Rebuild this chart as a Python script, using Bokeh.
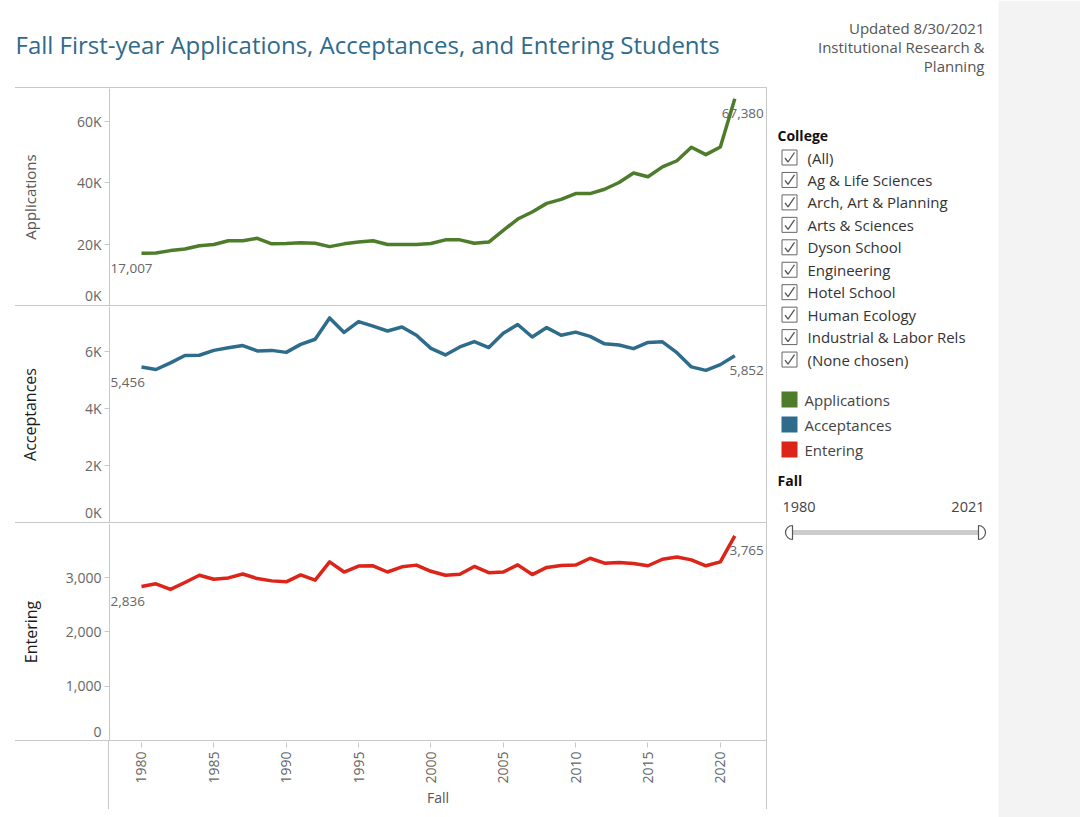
import math
from bokeh.plotting import figure
from bokeh.layouts import row, column
from bokeh.models import (Range1d, FixedTicker, CustomJSTickFormatter, Spacer, LinearAxis)
from bokeh.core.properties import value
from bokeh.embed import file_html
from bokeh.resources import INLINE

# ---------------- data ----------------
years = list(range(1980, 2022))
applications = [17007, 17100, 17900, 18400, 19500, 19900, 21100, 21100, 21900, 20100,
                20200, 20500, 20300, 19200, 20100, 20700, 21100, 19900, 19900, 19900,
                20200, 21400, 21400, 20300, 20700, 24500, 28200, 30500, 33300, 34600,
                36500, 36500, 37900, 40100, 43200, 42000, 45200, 47200, 51600, 49200,
                51700, 67380]
acceptances = [5456, 5370, 5600, 5860, 5870, 6040, 6130, 6210, 6020, 6040,
               5970, 6250, 6430, 7180, 6670, 7050, 6890, 6720, 6860, 6570,
               6110, 5880, 6160, 6350, 6140, 6640, 6950, 6510, 6840, 6570,
               6680, 6530, 6270, 6230, 6100, 6320, 6340, 5960, 5460, 5340,
               5540, 5852]
entering = [2836, 2884, 2781, 2908, 3042, 2969, 2993, 3065, 2980, 2938,
            2920, 3047, 2951, 3288, 3101, 3210, 3216, 3101, 3197, 3228,
            3114, 3042, 3060, 3204, 3089, 3101, 3233, 3054, 3186, 3222,
            3228, 3354, 3264, 3276, 3258, 3216, 3336, 3378, 3324, 3216,
            3288, 3765]
series_names = ["Applications", "Acceptances", "Entering"]
series_colors = ["#4d7c2b", "#2e6c8c", "#dc2418"]
colleges = ["(All)", "Ag & Life Sciences", "Arch, Art & Planning", "Arts & Sciences",
            "Dyson School", "Engineering", "Hotel School", "Human Ecology",
            "Industrial & Labor Rels", "(None chosen)"]
x_ticks = [1980, 1985, 1990, 1995, 2000, 2005, 2010, 2015, 2020]
app_ticks = [0, 20000, 40000, 60000]
acc_ticks = [0, 2000, 4000, 6000]
ent_ticks = [0, 1000, 2000, 3000]
fall_range = [1980, 2021]
title_text = "Fall First-year Applications, Acceptances, and Entering Students"
note_lines = ["Updated 8/30/2021", "Institutional Research &", "Planning"]

# ---------------- style ----------------
FONT = "Open Sans"
GRID = "#c8c8c8"
TICK_COLOR = "#666666"
LEFT = 109
FRAME_W = 657
TICK_FS = "14px"
X0, X1 = 1977.79, 2023.19
x_range_frame = Range1d(X0, X1)
x_range_full = Range1d(X0 - LEFT * (X1 - X0) / FRAME_W, X1)


def hline(width):
    return Spacer(width=width, height=1, margin=0, styles={"background-color": GRID})


def vline(height):
    return Spacer(width=1, height=height, margin=0, styles={"background-color": GRID})


def make_axis(ticks, fmt_code, **kw):
    ax = LinearAxis(ticker=FixedTicker(ticks=ticks), fixed_location=X0,
                    formatter=CustomJSTickFormatter(code=fmt_code), **kw)
    ax.major_tick_in = 0
    ax.major_tick_out = 5
    ax.minor_tick_line_color = None
    ax.major_label_standoff = 3
    ax.major_label_text_font = FONT
    ax.major_label_text_font_size = TICK_FS
    ax.major_label_text_color = TICK_COLOR
    return ax


def panel(vals, name, color, y_end, ticks, fmt_code, frame_h,
          lab_color, lab_size, lab_standoff):
    p = figure(width=LEFT + FRAME_W, height=frame_h, x_range=x_range_full,
               y_range=Range1d(0, y_end), output_backend="svg", toolbar_location=None,
               min_border=0, x_axis_location=None, y_axis_location=None)
    p.outline_line_color = None
    p.xgrid.visible = False
    p.ygrid.visible = False
    # value axis (non-zero ticks) drawn at the pane's left edge
    ax = make_axis(ticks[1:], fmt_code)
    ax.axis_line_color = GRID
    ax.major_tick_line_color = GRID
    ax.axis_label = name
    ax.axis_label_text_font = FONT
    ax.axis_label_text_font_style = "normal"
    ax.axis_label_text_font_size = lab_size
    ax.axis_label_text_color = lab_color
    ax.axis_label_standoff = lab_standoff
    p.add_layout(ax, "left")
    # the zero label sits just above the pane's bottom edge (as in the original)
    shift = 9.0 * y_end / frame_h
    p.extra_y_ranges = {"zero": Range1d(-shift, y_end - shift)}
    zax = make_axis(ticks[:1], fmt_code, y_range_name="zero")
    zax.axis_line_color = None
    zax.major_tick_line_color = None
    p.add_layout(zax, "left")
    p.line(years, vals, line_color=color, line_width=3.5, line_join="round")
    p.text(x=[years[0]], y=[vals[0]], text=[f"{vals[0]:,}"], x_offset=-31, y_offset=15,
           text_align="left", text_baseline="middle", text_font=value(FONT),
           text_font_size="13.5px", text_color=TICK_COLOR)
    p.text(x=[years[-1]], y=[vals[-1]], text=[f"{vals[-1]:,}"], x_offset=29, y_offset=15,
           text_align="right", text_baseline="middle", text_font=value(FONT),
           text_font_size="13.5px", text_color=TICK_COLOR)
    return p


k_code = "return (tick/1000).toFixed(0) + 'K';"
c_code = "return tick.toLocaleString('en-US');"
p_app = panel(applications, series_names[0], series_colors[0], 70760, app_ticks, k_code,
              217, "#555555", "15px", 34)
p_acc = panel(acceptances, series_names[1], series_colors[1], 7580, acc_ticks, k_code,
              216, "#1a1a1a", "16px", 41)
p_ent = panel(entering, series_names[2], series_colors[2], 3994, ent_ticks, c_code,
              217, "#1a1a1a", "16px", 21)

# x axis strip
pa = figure(width=FRAME_W, height=68, x_range=x_range_frame, y_range=Range1d(0, 1),
            output_backend="svg", toolbar_location=None, min_border_left=0,
            min_border_right=0, min_border_top=0, min_border_bottom=67,
            y_axis_location=None)
pa.outline_line_color = None
pa.xgrid.visible = False
pa.ygrid.visible = False
xa = pa.xaxis[0]
xa.ticker = FixedTicker(ticks=x_ticks)
xa.axis_line_color = None
xa.major_tick_line_color = GRID
xa.major_tick_in = 0
xa.major_tick_out = 5
xa.minor_tick_line_color = None
xa.major_label_orientation = math.pi / 2
xa.major_label_standoff = 4
xa.major_label_text_font = FONT
xa.major_label_text_font_size = TICK_FS
xa.major_label_text_color = TICK_COLOR
xa.axis_label = "Fall"
xa.axis_label_text_font = FONT
xa.axis_label_text_font_style = "normal"
xa.axis_label_text_font_size = "14px"
xa.axis_label_text_color = "#555555"
xa.axis_label_standoff = 1

# header
ph = figure(width=767, height=87, x_range=Range1d(0, 767), y_range=Range1d(87, 0),
            output_backend="svg", toolbar_location=None, x_axis_type=None,
            y_axis_type=None, min_border=0)
ph.outline_line_color = None
ph.xgrid.visible = False
ph.ygrid.visible = False
ph.text(x=[15], y=[44], text=[title_text], text_align="left", text_baseline="middle",
        text_font=value(FONT), text_font_size="24px", text_color="#2f6a8c")

# side panel
ps = figure(width=313, height=817, x_range=Range1d(767, 1080), y_range=Range1d(817, 0),
            output_backend="svg", toolbar_location=None, x_axis_type=None,
            y_axis_type=None, min_border=0)
ps.outline_line_color = None
ps.xgrid.visible = False
ps.ygrid.visible = False
ps.quad(left=[998], right=[1080], top=[0], bottom=[817], fill_color="#f3f3f3",
        line_color=None)
ps.text(x=[984] * 3, y=[27 + 19 * i for i in range(3)], text=note_lines,
        text_align="right", text_baseline="middle", text_font=value(FONT),
        text_font_size="15px", text_color="#555555")
ps.text(x=[777], y=[135], text=["College"], text_align="left", text_baseline="middle",
        text_font=value(FONT), text_font_size="14px", text_color="#111111",
        text_font_style="bold")
cy = [157 + 22.45 * i for i in range(len(colleges))]
ps.rect(x=[789] * len(cy), y=cy, width=15, height=15, fill_color="white",
        line_color="#666666", line_width=1)
ps.multi_line(xs=[[784.5, 787.5, 794] for _ in cy],
              ys=[[c + 0.5, c + 4.5, c - 5] for c in cy],
              line_color="#555555", line_width=1.3)
ps.text(x=[807] * len(cy), y=cy, text=colleges, text_align="left",
        text_baseline="middle", text_font=value(FONT), text_font_size="15px",
        text_color="#333333")
ly = [399 + 25 * i for i in range(3)]
ps.rect(x=[789] * 3, y=ly, width=16, height=16, fill_color=series_colors,
        line_color=None)
ps.text(x=[804] * 3, y=ly, text=series_names, text_align="left", text_baseline="middle",
        text_font=value(FONT), text_font_size="15px", text_color="#444444")
ps.text(x=[777], y=[480], text=["Fall"], text_align="left", text_baseline="middle",
        text_font=value(FONT), text_font_size="14px", text_color="#111111",
        text_font_style="bold")
ps.text(x=[782, 984], y=[506, 506], text=[str(v) for v in fall_range],
        text_align=["left", "right"], text_baseline="middle", text_font=value(FONT),
        text_font_size="14.5px", text_color="#444444")
ps.line(x=[792, 978], y=[532, 532], line_color="#cccccc", line_width=5)
ps.wedge(x=[792], y=[532], radius=7, start_angle=math.pi / 2, end_angle=3 * math.pi / 2,
         fill_color="white", line_color="#555555", line_width=1.2)
ps.wedge(x=[978], y=[532], radius=7, start_angle=-math.pi / 2, end_angle=math.pi / 2,
         fill_color="white", line_color="#555555", line_width=1.2)

sep = lambda: row(Spacer(width=15, height=1, margin=0), hline(752))
left = column(
    ph,
    sep(),
    row(p_app, vline(217)),
    sep(),
    row(p_acc, vline(216)),
    sep(),
    row(p_ent, vline(217)),
    sep(),
    row(Spacer(width=108, height=68, margin=0), vline(68), pa, vline(68)),
)
layout = row(left, ps)

open("out.html", "w").write(file_html(layout, INLINE))
